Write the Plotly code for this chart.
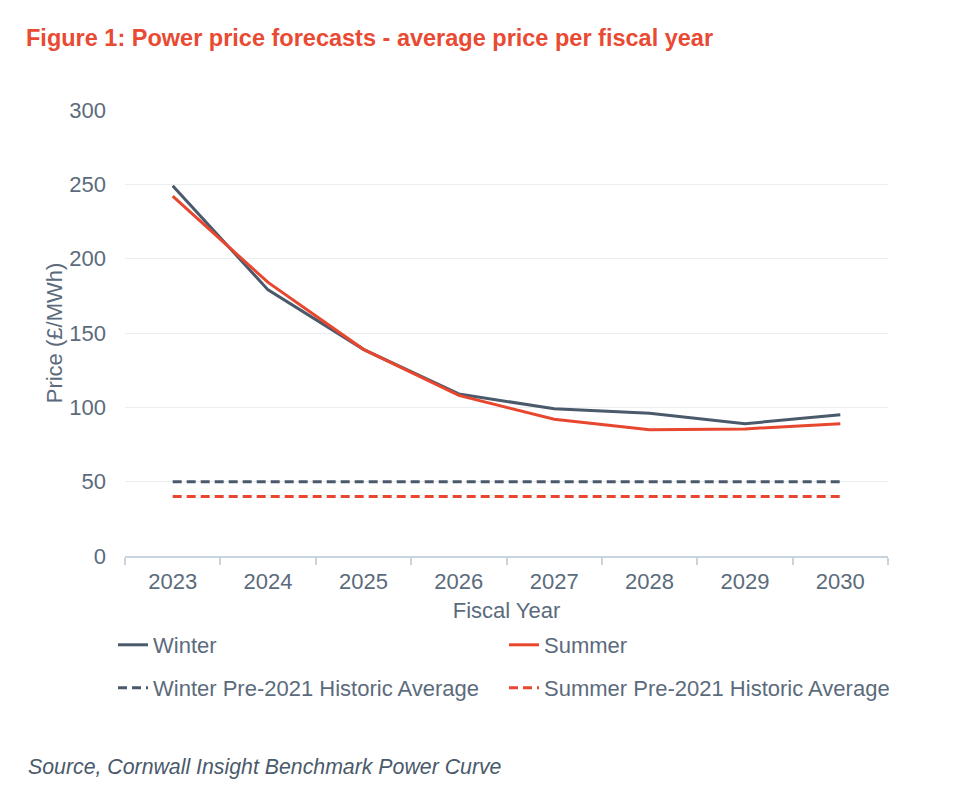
import plotly.graph_objects as go

# the page adds an 8px body margin, so the figure is sized to fit the rest of the window
W, H = 951, 790
OFF = 8


def fx(px):
    return (px - OFF) / W


def fy(py):
    return 1 - (py - OFF) / H


years = ["2023", "2024", "2025", "2026", "2027", "2028", "2029", "2030"]
winter = [249, 179, 139, 109, 99, 96, 89, 95]
summer = [242, 184, 139, 108, 92, 85, 85.5, 89]
winter_hist = [50] * len(years)
summer_hist = [40] * len(years)

slate = "#4a5a6b"
red = "#e8472f"
text_col = "#5b6b7c"
font = "Liberation Sans, Arial, sans-serif"

fig = go.Figure()
fig.add_trace(go.Scatter(x=years, y=winter, mode="lines", name="Winter",
                         line=dict(color=slate, width=3), legend="legend"))
fig.add_trace(go.Scatter(x=years, y=summer, mode="lines", name="Summer",
                         line=dict(color=red, width=3), legend="legend2"))
fig.add_trace(go.Scatter(x=years, y=winter_hist, mode="lines", name="Winter Pre-2021 Historic Average",
                         line=dict(color=slate, width=3, dash="9px,5px"), legend="legend3"))
fig.add_trace(go.Scatter(x=years, y=summer_hist, mode="lines", name="Summer Pre-2021 Historic Average",
                         line=dict(color=red, width=3, dash="9px,5px"), legend="legend4"))

leg = dict(orientation="h", xanchor="left", yanchor="middle", itemwidth=30,
           font=dict(family=font, size=22, color=text_col),
           bgcolor="rgba(0,0,0,0)", borderwidth=0)

fig.update_layout(
    width=W, height=H,
    margin=dict(l=0, r=0, t=0, b=0),
    paper_bgcolor="white", plot_bgcolor="white",
    font=dict(family=font, color=text_col, size=22),
    title=dict(text="<b>Figure 1: Power price forecasts - average price per fiscal year</b>",
               xref="container", yref="container", x=fx(26), y=fy(38),
               xanchor="left", yanchor="middle", pad=dict(l=0, r=0, t=0, b=0),
               font=dict(family=font, size=23.5, color="#e94a33")),
    legend=dict(leg, x=fx(113), y=fy(645)),
    legend2=dict(leg, x=fx(504), y=fy(645)),
    legend3=dict(leg, x=fx(113), y=fy(688)),
    legend4=dict(leg, x=fx(504), y=fy(688)),
    showlegend=True,
)

fig.update_xaxes(domain=[fx(125), fx(888)], automargin=False, range=[-0.5, 7.5],
                 showline=True, linecolor="#c9d3dd", linewidth=2,
                 ticks="outside", tickson="boundaries", ticklen=7, tickcolor="#c9d3dd", tickwidth=2,
                 ticklabelstandoff=5,
                 showgrid=False, tickfont=dict(size=22, color=text_col),
                 title=dict(text="Fiscal Year", font=dict(size=22, color=text_col), standoff=9))
fig.update_yaxes(domain=[fy(556), fy(110)], automargin=False,
                 range=[0, 300], dtick=50, showline=False, zeroline=False,
                 showgrid=True, gridcolor="#ebeef0", gridwidth=1,
                 ticks="", ticklabelstandoff=18, tickfont=dict(size=22, color=text_col),
                 title=dict(text="Price (£/MWh)", font=dict(size=22, color=text_col), standoff=0))

fig.add_annotation(text="<i>Source, Cornwall Insight Benchmark Power Curve</i>",
                   xref="paper", yref="paper", x=fx(26), y=fy(767),
                   xanchor="left", yanchor="middle", showarrow=False,
                   font=dict(family=font, size=21.3, color=slate))

fig.write_html("out.html")
